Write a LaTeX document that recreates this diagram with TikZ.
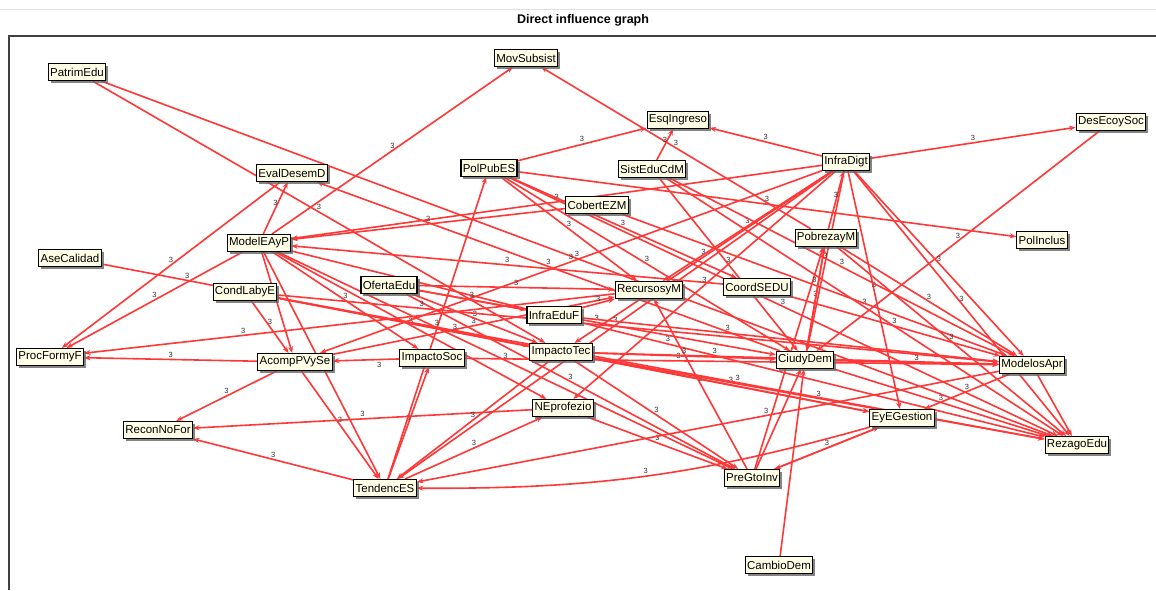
\documentclass[tikz,border=0pt]{standalone}
\usepackage{fontspec}
\setmainfont{Liberation Sans}
\usetikzlibrary{arrows.meta,shadows,backgrounds}

\definecolor{cream}{RGB}{255,255,232}
\definecolor{inflred}{RGB}{255,55,55}

\tikzset{
  var/.style={draw=black, line width=1.1pt, fill=cream, inner sep=1.8pt,
    minimum height=17pt, font=\fontsize{11.5}{13}\selectfont,
    drop shadow={shadow xshift=2.5pt, shadow yshift=-2.5pt, fill=black!60, opacity=.8}},
  infl/.style={draw=inflred, line width=1.6pt, -{Stealth[length=6.5pt,width=5pt]}},
  lbl/.style={font=\fontsize{7.5}{8}\selectfont, text=black!80, inner sep=1.5pt, above}
}

\begin{document}
\begin{tikzpicture}[x=1pt,y=-1pt]
\useasboundingbox (0,0) rectangle (1156,590);
% frame and title
\draw[black!12, line width=0.6pt] (0,9) -- (1156,9);
\node[font=\bfseries\fontsize{12.5}{14}\selectfont] (title) at (583,20) {Direct influence graph};
\draw[black!75, line width=1.3pt] (9,590) -- (9,36) -- (1156,36);

% variables
\node[var] (patrim) at (77,72) {PatrimEdu};
\node[var] (movsub) at (526,58) {MovSubsist};
\node[var] (esqing) at (678,120) {EsqIngreso};
\node[var] (desecon) at (1111,122) {DesEcoySoc};
\node[var] (infradig) at (846,162) {InfraDigt};
\node[var] (polpub) at (489,168) {PolPubES};
\node[var] (sistedu) at (652,169) {SistEduCdM};
\node[var] (evaldes) at (292,173) {EvalDesemD};
\node[var] (cobert) at (597,205) {CobertEZM};
\node[var] (polincl) at (1042,240) {PolInclus};
\node[var] (pobreza) at (826,238) {PobrezayM};
\node[var] (modelea) at (259,243) {ModelEAyP};
\node[var] (asecal) at (70,258) {AseCalidad};
\node[var] (condlab) at (245,292) {CondLabyE};
\node[var] (oferta) at (389,285) {OfertaEdu};
\node[var] (recursos) at (649,290) {RecursosyM};
\node[var] (coord) at (757,287) {CoordSEDU};
\node[var] (infraedu) at (554,315) {InfraEduF};
\node[var] (procform) at (50,357) {ProcFormyF};
\node[var] (acomp) at (295,362) {AcompPVySe};
\node[var] (impsoc) at (432,358) {ImpactoSoc};
\node[var] (imptec) at (561,352) {ImpactoTec};
\node[var] (ciudy) at (805,360) {CiudyDem};
\node[var] (modapr) at (1032,365) {ModelosApr};
\node[var] (neprof) at (563,408) {NEprofezio};
\node[var] (eyeg) at (902,418) {EyEGestion};
\node[var] (recon) at (158,430) {ReconNoFor};
\node[var] (rezago) at (1077,445) {RezagoEdu};
\node[var] (tenden) at (385,488) {TendencES};
\node[var] (pregto) at (752,478) {PreGtoInv};
\node[var] (cambio) at (779,565) {CambioDem};

% influences
\begin{scope}[on background layer]
\fill[white] (0,0) rectangle (1156,590);
\draw[infl] (modelea) -- node[lbl]{3} (movsub);
\draw[infl] (pobreza) -- node[lbl]{3} (movsub);
\draw[infl] (polpub) -- node[lbl]{3} (esqing);
\draw[infl] (infradig) -- node[lbl]{3} (esqing);
\draw[infl] (sistedu) -- node[lbl]{3} (esqing);
\draw[infl] (infradig) -- node[lbl]{3} (desecon);
\draw[infl] (desecon) -- node[lbl]{3} (ciudy);
\draw[infl] (patrim) -- node[lbl]{3} (imptec);
\draw[infl] (patrim) -- node[lbl]{3} (rezago);
\draw[infl] (evaldes) -- node[lbl]{3} (procform);
\draw[infl] (modelea) -- node[lbl]{3} (evaldes);
\draw[infl] (ciudy) -- node[lbl]{3} (evaldes);
\draw[infl] (modelea) -- node[lbl]{3} (procform);
\draw[infl] (recursos) -- node[lbl,pos=.7]{3} (procform);
\draw[infl] (acomp) -- node[lbl]{3} (procform);
\draw[infl] (asecal) -- node[lbl,pos=.2]{3} (imptec);
\draw[infl] (condlab) -- node[lbl]{3} (acomp);
\draw[infl] (modelea) -- node[lbl]{3} (acomp);
\draw[infl] (modelea) -- node[lbl]{3} (tenden);
\draw[infl] (modelea) -- node[lbl]{3} (impsoc);
\draw[infl] (modelea) -- node[lbl]{3} (neprof);
\draw[infl] (modelea) -- node[lbl]{3} (pregto);
\draw[infl] (modelea) -- node[lbl]{3} (rezago);
\draw[infl] (infradig) -- node[lbl]{3} (modelea);
\draw[infl] (coord) -- node[lbl]{3} (modelea);
\draw[infl] (cobert) -- node[lbl]{3} (modelea);
\draw[infl] (acomp) -- node[lbl]{3} (recon);
\draw[infl] (acomp) -- node[lbl]{3} (tenden);
\draw[infl] (acomp) -- node[lbl]{3} (recursos);
\draw[infl] (impsoc) -- node[lbl,below,pos=.3]{3} (acomp);
\draw[infl] (impsoc) -- node[lbl,pos=.4]{3} (modapr);
\draw[infl] (tenden) -- node[lbl]{3} (impsoc);
\draw[infl] (tenden) -- node[lbl]{3} (polpub);
\draw[infl] (tenden) -- node[lbl]{3} (recon);
\draw[infl] (tenden) -- node[lbl]{3} (neprof);
\draw[infl] (neprof) -- node[lbl]{3} (recon);
\draw[infl] (neprof) -- node[lbl]{3} (pregto);
\draw[infl] (infradig) -- node[lbl]{3} (imptec);
\draw[infl] (infradig) -- node[lbl]{3} (neprof);
\draw[infl] (infradig) -- node[lbl]{3} (tenden);
\draw[infl] (infradig) -- node[lbl]{3} (acomp);
\draw[infl] (infradig) -- node[lbl]{3} (recursos);
\draw[infl] (infradig) -- node[lbl]{3} (ciudy);
\draw[infl] (infradig) -- node[lbl]{3} (eyeg);
\draw[infl] (infradig) -- node[lbl]{3} (modapr);
\draw[infl] (infradig) -- node[lbl]{3} (rezago);
\draw[infl] (pobreza) -- node[lbl]{3} (infradig);
\draw[infl] (pobreza) -- node[lbl]{3} (ciudy);
\draw[infl] (ciudy) -- (pobreza);
\draw[infl] (pregto) -- node[lbl]{3} (pobreza);
\draw[infl] (cambio) -- (ciudy);
\draw[infl] (pregto) -- (ciudy);
\draw[infl] (pregto) -- node[lbl]{3} (recursos);
\draw[infl] (ciudy) -- node[lbl]{3} (modapr);
\draw[infl] (ciudy) -- node[lbl]{3} (rezago);
\draw[infl] (eyeg) -- node[lbl]{3} (pregto);
\draw[infl] (pregto) -- (eyeg);
\draw[infl] (eyeg) to[bend left=8] node[lbl]{3} (tenden);
\draw[infl] (modapr) -- node[lbl,pos=.4]{3} (tenden);
\draw[infl] (modapr) -- node[lbl]{3} (eyeg);
\draw[infl] (modapr) -- (rezago);
\draw[infl] (imptec) -- node[lbl]{3} (ciudy);
\draw[infl] (imptec) -- node[lbl,pos=.3]{3} (modapr);
\draw[infl] (imptec) -- node[lbl]{3} (rezago);
\draw[infl] (imptec) -- node[lbl]{3} (eyeg);
\draw[infl] (imptec) -- node[lbl]{3} (pregto);
\draw[infl] (imptec) -- node[lbl]{3} (tenden);
\draw[infl] (oferta) -- node[lbl]{3} (recursos);
\draw[infl] (oferta) -- node[lbl]{3} (infraedu);
\draw[infl] (oferta) -- node[lbl]{3} (imptec);
\draw[infl] (oferta) -- node[lbl]{3} (ciudy);
\draw[infl] (oferta) -- node[lbl]{3} (pregto);
\draw[infl] (infraedu) -- node[lbl]{3} (recursos);
\draw[infl] (infraedu) -- node[lbl,pos=.35]{3} (modapr);
\draw[infl] (polpub) -- node[lbl]{3} (polincl);
\draw[infl] (polpub) -- node[lbl]{3} (coord);
\draw[infl] (polpub) -- node[lbl]{3} (recursos);
\draw[infl] (polpub) -- node[lbl]{3} (ciudy);
\draw[infl] (polpub) -- node[lbl]{3} (rezago);
\draw[infl] (sistedu) -- node[lbl]{3} (ciudy);
\draw[infl] (sistedu) -- node[lbl]{3} (rezago);
\draw[infl] (sistedu) -- node[lbl]{3} (modapr);
\draw[infl] (cobert) -- node[lbl]{3} (modapr);
\draw[infl] (coord) -- node[lbl]{3} (modapr);
\draw[infl] (condlab) -- node[lbl,pos=.3]{3} (eyeg);
\draw[infl] (condlab) -- node[lbl,pos=.6]{3} (rezago);
\draw[infl] (condlab) -- node[lbl,pos=.2]{3} (modapr);
\draw[infl] (pobreza) -- node[lbl]{3} (modapr);
\draw[infl] (pobreza) -- node[lbl]{3} (rezago);
\end{scope}
\end{tikzpicture}
\end{document}
